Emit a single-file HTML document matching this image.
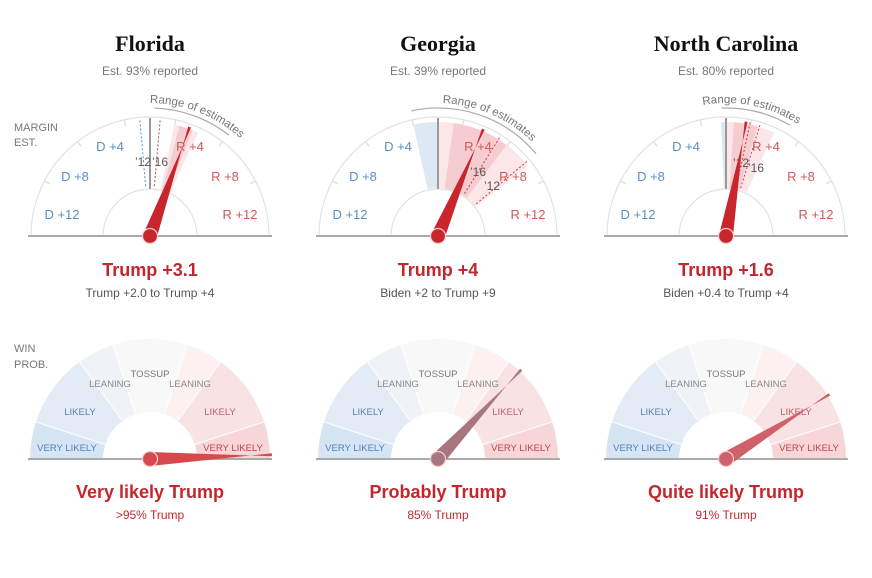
<!DOCTYPE html>
<html><head><meta charset="utf-8"><style>
body{margin:0;background:#fff;width:872px;height:578px;overflow:hidden}
svg{display:block}
.t{font-family:"Liberation Serif",serif;font-weight:bold;font-size:22px;fill:#111;text-anchor:middle}
.s{font-family:"Liberation Sans",sans-serif;font-size:12px;fill:#777;text-anchor:middle}
.h{font-family:"Liberation Sans",sans-serif;font-weight:bold;font-size:18px;fill:#c3272e;text-anchor:middle}
.l{font-family:"Liberation Sans",sans-serif;font-size:13px;text-anchor:middle}
.w{font-family:"Liberation Sans",sans-serif;font-size:9.5px;text-anchor:middle}
.g{font-family:"Liberation Sans",sans-serif;font-size:11px;fill:#777}
</style></head><body>
<svg id="c" width="872" height="578" xmlns="http://www.w3.org/2000/svg">
<text class="g" x="14" y="131">MARGIN</text><text class="g" x="14" y="146">EST.</text>
<text class="g" x="14" y="352">WIN</text><text class="g" x="14" y="368">PROB.</text>
</svg>
<script>
var svg=document.getElementById('c'),out='';
function P(cx,cy,r,a){a=a*Math.PI/180;return [cx+r*Math.sin(a),cy-r*Math.cos(a)];}
function wedge(cx,cy,r1,r2,a1,a2,f){var p1=P(cx,cy,r2,a1),p2=P(cx,cy,r2,a2),p3=P(cx,cy,r1,a2),p4=P(cx,cy,r1,a1);var lg=(a2-a1)>180?1:0;
return '<path d="M'+p1+' A'+r2+' '+r2+' 0 '+lg+' 1 '+p2+' L'+p3+' A'+r1+' '+r1+' 0 '+lg+' 0 '+p4+'Z" fill="'+f+'"/>';}
function arc(cx,cy,r,a1,a2,st,w,id){var p1=P(cx,cy,r,a1),p2=P(cx,cy,r,a2);return '<path '+(id?'id="'+id+'" ':'')+'d="M'+p1+' A'+r+' '+r+' 0 0 1 '+p2+'" fill="none" stroke="'+st+'" stroke-width="'+w+'"/>';}
function line(cx,cy,r1,r2,a,st,w,da){var p=P(cx,cy,r1,a),q=P(cx,cy,r2,a);return '<line x1="'+p[0]+'" y1="'+p[1]+'" x2="'+q[0]+'" y2="'+q[1]+'" stroke="'+st+'" stroke-width="'+w+'"'+(da?' stroke-dasharray="'+da+'"':'')+'/>';}
function needle(cx,cy,a,len,col){var t=P(cx,cy,len,a);var l=P(cx,cy,7,a-90),r=P(cx,cy,7,a+90);var c=Math.cos(a*Math.PI/180),s=Math.sin(a*Math.PI/180);var tl=[t[0]+1.5*c,t[1]+1.5*s],tr=[t[0]-1.5*c,t[1]-1.5*s];
return '<polygon points="'+l+' '+tl+' '+tr+' '+r+'" fill="'+col+'"/><circle cx="'+cx+'" cy="'+cy+'" r="7.5" fill="'+col+'" stroke="#f4d0d0" stroke-width="1.2"/>';}
function txt(c,x,y,s,f){return '<text class="'+c+'" x="'+x+'" y="'+y+'"'+(f?' style="fill:'+f+'"':'')+'>'+s+'</text>';}
var st=[
{cx:150,n:'Florida',rep:'Est. 93% reported',h:'Trump +3.1',sub:'Trump +2.0 to Trump +4',blue:null,red:[12.5,25],dark:[15,22],ra:[2,38],ta:0,a:20,d12:-5,d16:5,l12:[143,166],l16:[160,166],wb:'Very likely Trump',ws:'&gt;95% Trump',wa:88,wc:'#d64a4c'},
{cx:438,n:'Georgia',rep:'Est. 39% reported',h:'Trump +4',sub:'Biden +2 to Trump +9',blue:[-12.5,0],red:[0,52],dark:[8,37],ra:[-12,50],ta:2,a:23,d12:50,d16:32,l12:[492,190],l16:[478,176],wb:'Probably Trump',ws:'85% Trump',wa:43,wc:'#a8767e'},
{cx:726,n:'North Carolina',rep:'Est. 80% reported',h:'Trump +1.6',sub:'Biden +0.4 to Trump +4',blue:[-2.5,0],red:[0,25],dark:[4,16],ra:[-2,30],ta:-10,a:10,d12:12,d16:17,l12:[741,167],l16:[756,172],wb:'Quite likely Trump',ws:'91% Trump',wa:58,wc:'#d0606a'}];
st.forEach(function(s,i){var cx=s.cx,cy=236;
out+=txt('t',cx,51,s.n)+txt('s',cx,75,s.rep);
out+=arc(cx,cy,119,-90,90,'#e2e2e2',1.2)+arc(cx,cy,47,-90,90,'#e2e2e2',1.2);
for(var k=-3;k<=3;k++){if(k==0)continue;var aa=k*25-Math.sign(k)*12.5;out+=line(cx,cy,113,119,aa,'#ddd',1.2);}
if(s.blue)out+=wedge(cx,cy,48,114,s.blue[0],s.blue[1],'#dce9f4');
out+=wedge(cx,cy,48,114,s.red[0],s.red[1],'#fce6e7');
out+=wedge(cx,cy,48,114,s.dark[0],s.dark[1],'#f5cdd0');
out+=line(cx,cy,47,118,0,'#999',2);
out+=line(cx,cy,50,116,s.d12,i==0?'#5b8fc4':'#c9404a',1,'2,2')+line(cx,cy,50,116,s.d16,'#c9404a',1,'2,2');
out+=txt('s',s.l12[0],s.l12[1],"’12",'#555')+txt('s',s.l16[0],s.l16[1],"’16",'#555');
out+=arc(cx,cy,128,s.ra[0],s.ra[1],'#aaa',1.2);
out+=arc(cx,cy,133,s.ta,s.ta+70,'none',0,'ra'+i);
out+='<text class="s" style="text-anchor:start;font-size:11.5px"><textPath href="#ra'+i+'">Range of estimates</textPath></text>';
var L=[[-40,-85,'D +4'],[-75,-55,'D +8'],[-90,-17,'D +12']];
L.forEach(function(q){out+=txt('l',cx+q[0]+(q[2]=='D +12'?2:0),cy+q[1],q[2],'#5b8fc4');out+=txt('l',cx-q[0],cy+q[1],q[2].replace('D','R'),'#d05a5a');});
out+='<line x1="'+(cx-122)+'" y1="'+cy+'" x2="'+(cx+122)+'" y2="'+cy+'" stroke="#aaa" stroke-width="2"/>';
out+=needle(cx,cy,s.a,116,'#c9252d');
out+=txt('h',cx,276,s.h)+txt('s',cx,297,s.sub,'#555');
cy=459;var seg=[[-90,-72,'#d6e5f3'],[-72,-36,'#e3ecf6'],[-36,-18,'#eff3f8'],[-18,18,'#f8f8f8'],[18,36,'#fcf0f0'],[36,72,'#f9e2e3'],[72,90,'#f7d6d7']];
seg.forEach(function(g){out+=wedge(cx,cy,47,120,g[0],g[1],g[2]);});
seg.forEach(function(g){if(g[0]>-90)out+=line(cx,cy,47,120,g[0],'#fff',1);});
var W=[[-83,-8,'VERY LIKELY','#4f7fb8'],[-70,-44,'LIKELY','#6080a8'],[-40,-72,'LEANING','#888'],[0,-82,'TOSSUP','#777'],[40,-72,'LEANING','#888'],[70,-44,'LIKELY','#b86068'],[83,-8,'VERY LIKELY','#c4404c']];
W.forEach(function(q){out+=txt('w',cx+q[0],cy+q[1],q[2],q[3]);});
out+='<line x1="'+(cx-122)+'" y1="'+cy+'" x2="'+(cx+122)+'" y2="'+cy+'" stroke="#aaa" stroke-width="2"/>';
out+=needle(cx,cy,s.wa,122,s.wc);
out+=txt('h',cx,498,s.wb)+txt('s',cx,519,s.ws,'#c3272e');
});
svg.insertAdjacentHTML('beforeend',out);
</script>
</body></html>
